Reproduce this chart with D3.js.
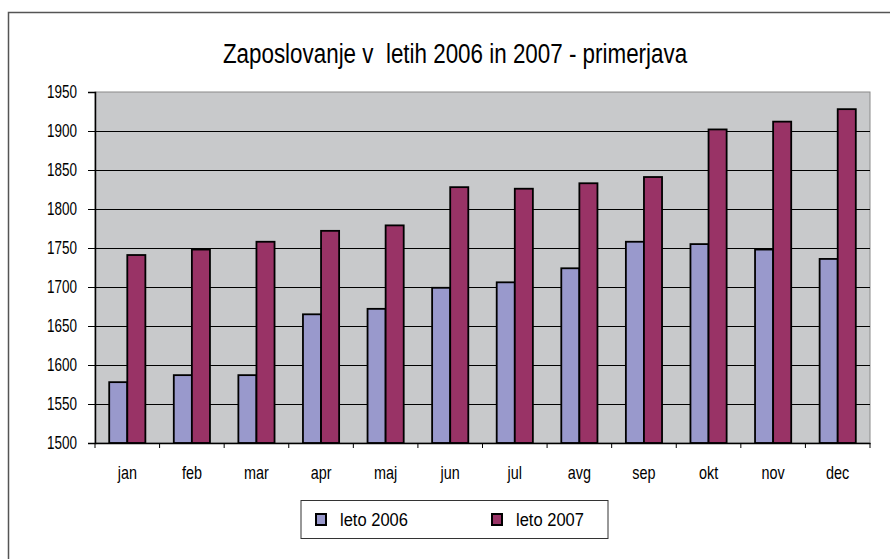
<!DOCTYPE html>
<html>
<head>
<meta charset="utf-8">
<script src="https://cdn.jsdelivr.net/npm/d3@7"></script>
<style>
  body { margin: 0; background: #fff; }
  text { font-family: "Liberation Sans", Arial, sans-serif; fill: #000; white-space: pre; }
</style>
</head>
<body>
<svg id="chart" width="890" height="559"></svg>
<script>
const months = ['jan', 'feb', 'mar', 'apr', 'maj', 'jun', 'jul', 'avg', 'sep', 'okt', 'nov', 'dec'];
const leto2006 = [1578, 1587, 1587, 1665, 1672, 1699, 1706, 1724, 1758, 1755, 1748, 1736];
const leto2007 = [1741, 1748, 1758, 1772, 1779, 1828, 1826, 1833, 1841, 1902, 1912, 1928];
const seriesNames = ['leto 2006', 'leto 2007'];
const yTicks = [1500, 1550, 1600, 1650, 1700, 1750, 1800, 1850, 1900, 1950];

const colors = ['#9999cc', '#993366'];
const plot = {left: 95, right: 870, top: 92, bottom: 443};

const svg = d3.select('#chart');

// narrow look: squeeze text horizontally, keeping its anchor x
function condense(sel, sx) {
  sel.each(function() {
    const t = d3.select(this);
    const xv = +t.attr('x') || 0;
    t.attr('x', xv / sx).attr('transform', `scale(${sx},1)`);
  });
}

// outer chart frame
svg.append('rect')
    .attr('x', 8.5).attr('y', 12.5)
    .attr('width', 900).attr('height', 600)
    .attr('fill', '#fff')
    .attr('stroke', '#555')
    .attr('stroke-width', 1.5);

svg.append('text')
    .attr('transform', 'translate(455,63) scale(0.8,1)')
    .attr('text-anchor', 'middle')
    .style('font-size', '28px')
    .text('Zaposlovanje v  letih 2006 in 2007 - primerjava');

const x = d3.scaleBand()
    .domain(months)
    .range([plot.left, plot.right]);

const y = d3.scaleLinear()
    .domain([1500, 1950])
    .range([plot.bottom, plot.top]);

const barW = x.bandwidth() * 0.28;

// plot area background
svg.append('rect')
    .attr('x', plot.left).attr('y', plot.top)
    .attr('width', plot.right - plot.left)
    .attr('height', plot.bottom - plot.top)
    .attr('fill', '#c8c9cb')
    .attr('stroke', '#8a8a8a')
    .attr('stroke-width', 1);

// gridlines
svg.append('g')
    .selectAll('line')
    .data(yTicks.filter((d) => d > 1500 && d < 1950))
    .join('line')
    .attr('x1', plot.left).attr('x2', plot.right)
    .attr('y1', (d) => Math.round(y(d)) + 0.5)
    .attr('y2', (d) => Math.round(y(d)) + 0.5)
    .attr('stroke', '#000')
    .attr('stroke-width', 1);

// bars
const data = months.map((m, i) => ({m: m, vals: [leto2006[i], leto2007[i]]}));
const groups = svg.append('g')
    .selectAll('g')
    .data(data)
    .join('g')
    .attr('transform', (d) => `translate(${x(d.m) + x.bandwidth() / 2 - barW},0)`);
groups.selectAll('rect')
    .data((d) => d.vals)
    .join('rect')
    .attr('x', (d, i) => i * barW)
    .attr('y', (d) => y(d))
    .attr('width', barW)
    .attr('height', (d) => y(1500) - y(d))
    .attr('fill', (d, i) => colors[i])
    .attr('stroke', '#000')
    .attr('stroke-width', 1.8);

// y axis
const yAxis = svg.append('g')
    .attr('transform', `translate(${plot.left},0)`)
    .call(d3.axisLeft(y).tickValues(yTicks).tickSize(7).tickPadding(11).tickFormat(d3.format('d')));
yAxis.select('.domain').attr('stroke', '#000').attr('stroke-width', 1.5);
yAxis.selectAll('text').style('font-size', '18px');
condense(yAxis.selectAll('text'), 0.75);

// x axis
const xAxis = svg.append('g')
    .attr('transform', `translate(0,${plot.bottom})`)
    .call(d3.axisBottom(x).tickSize(0).tickPadding(23));
xAxis.select('.domain').attr('stroke', '#000').attr('stroke-width', 1.5);
xAxis.selectAll('text').style('font-size', '18px');
condense(xAxis.selectAll('text'), 0.8);
xAxis.append('g')
    .selectAll('line')
    .data(months.concat(['end']))
    .join('line')
    .attr('x1', (d, i) => plot.left + i * x.step())
    .attr('x2', (d, i) => plot.left + i * x.step())
    .attr('y1', 0).attr('y2', 5)
    .attr('stroke', '#000')
    .attr('stroke-width', 1);

// legend
const legend = svg.append('g');
legend.append('rect')
    .attr('x', 301).attr('y', 500.5)
    .attr('width', 307).attr('height', 38)
    .attr('fill', '#fff')
    .attr('stroke', '#333')
    .attr('stroke-width', 1);
const items = legend.selectAll('g.item')
    .data(seriesNames)
    .join('g')
    .attr('class', 'item')
    .attr('transform', (d, i) => `translate(${316 + i * 176},514)`);
items.append('rect')
    .attr('width', 10).attr('height', 11)
    .attr('fill', (d, i) => colors[i])
    .attr('stroke', '#000')
    .attr('stroke-width', 2);
items.append('text')
    .attr('x', 24).attr('y', 12)
    .style('font-size', '19px')
    .text((d) => d);
condense(items.selectAll('text'), 0.87);
</script>
</body>
</html>
